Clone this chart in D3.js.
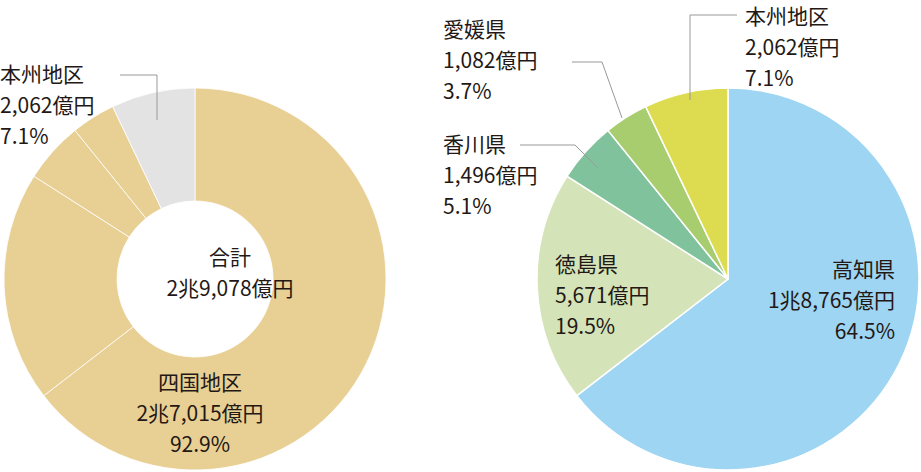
<!DOCTYPE html>
<html><head><meta charset="utf-8">
<script src="https://cdn.jsdelivr.net/npm/d3@7"></script>
<style>body{margin:0;background:#fff}text{font-family:"Noto Sans CJK JP","Noto Sans",sans-serif;font-size:21px;fill:#231815}</style>
</head><body><svg width="921" height="472"></svg>
<script>
const categories=["高知県","徳島県","香川県","愛媛県","本州地区"];
const values=[18765,5671,1496,1082,2062];
const percents=["64.5%","19.5%","5.1%","3.7%","7.1%"];
const amounts=["1兆8,765億円","5,671億円","1,496億円","1,082億円","2,062億円"];
const rightColors=["#9dd5f3","#d5e4b8","#80c29b","#a7cd6f","#dddb4f"];
const leftColors=["#e8cf93","#e8cf93","#e8cf93","#e8cf93","#e3e3e3"];
const svg=d3.select("svg");
const pie=d3.pie().sort(null).value(d=>d);
const arcs=pie(values);
const gl=svg.append("g").attr("transform","translate(195,279)");
gl.selectAll("path").data(arcs).join("path").attr("d",d3.arc().innerRadius(78).outerRadius(191))
 .attr("fill",(d,i)=>leftColors[i]).attr("stroke","#fff").attr("stroke-width",0.8);
const gr=svg.append("g").attr("transform","translate(728,279)");
gr.selectAll("path").data(arcs).join("path").attr("d",d3.arc().innerRadius(0).outerRadius(191))
 .attr("fill",(d,i)=>rightColors[i]).attr("stroke","#fff").attr("stroke-width",1.5);
function label(x,y,lines,anchor){const t=svg.append("text").attr("text-anchor",anchor||"start");
 lines.forEach((l,i)=>t.append("tspan").attr("x",x).attr("y",y+i*31).text(l));}
const line=(pts)=>svg.append("polyline").attr("points",pts.map(p=>p.join(",")).join(" ")).attr("fill","none").attr("stroke","#999").attr("stroke-width",1);
label(0,82,["本州地区",amounts[4],percents[4]]);
line([[120,75],[157,75],[157,120]]);
label(230,265,["合計","2兆9,078億円"],"middle");
label(200,390,["四国地区","2兆7,015億円","92.9%"],"middle");
label(443,37,[categories[3],amounts[3],percents[3]]);
line([[572,62],[602,62],[622,118]]);
label(443,152,[categories[2],amounts[2],percents[2]]);
line([[520,145],[575,145],[598,168]]);
label(745,24,[categories[4],amounts[4],percents[4]]);
line([[737,15],[690,15],[690,100]]);
label(555,272,[categories[1],amounts[1],percents[1]]);
label(895,277,[categories[0],amounts[0],percents[0]],"end");
</script></body></html>
